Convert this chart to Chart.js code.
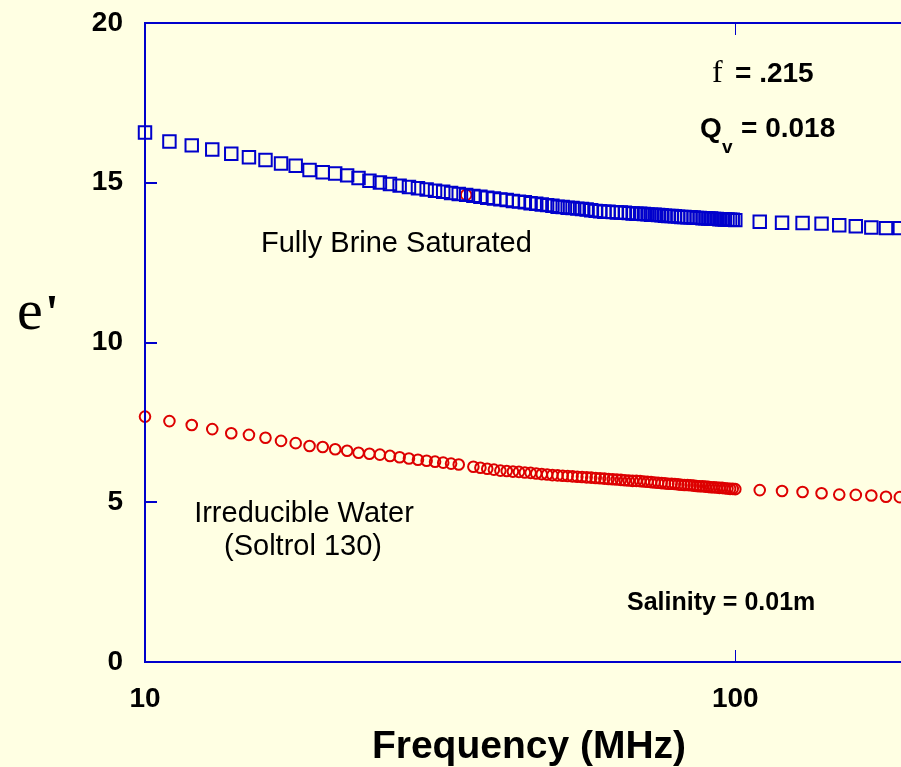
<!DOCTYPE html>
<html>
<head>
<meta charset="utf-8">
<script src="https://cdn.jsdelivr.net/npm/chart.js@4.4.1/dist/chart.umd.min.js"></script>
<style>
  html, body { margin: 0; padding: 0; background: #FFFFE3; overflow: hidden; }
  #wrap { width: 901px; height: 767px; overflow: hidden; position: relative; }
  canvas { display: block; }
</style>
</head>
<body>
<div id="wrap"><canvas id="c" width="913" height="767"></canvas></div>
<script>
// ---- data (frequency in MHz, e' values) ----
const freqs = [10,11,12,13,14,15,16,17,18,19,20,21,22,23,24,25,26,27,28,29,30,31,32,33,34,35,36,37,38,39,40,41,42,43,44,45,46,47,48,49,50,51,52,53,54,55,56,57,58,59,60,61,62,63,64,65,66,67,68,69,70,71,72,73,74,75,76,77,78,79,80,81,82,83,84,85,86,87,88,89,90,91,92,93,94,95,96,97,98,99,100,110,120,130,140,150,160,170,180,190];
const brineSaturated = [16.57,16.29,16.17,16.04,15.91,15.80,15.71,15.60,15.53,15.40,15.33,15.29,15.23,15.15,15.06,15.01,14.96,14.91,14.87,14.83,14.79,14.75,14.72,14.68,14.65,14.62,14.59,14.56,14.53,14.51,14.48,14.46,14.43,14.41,14.39,14.36,14.34,14.32,14.30,14.28,14.25,14.24,14.22,14.21,14.19,14.18,14.16,14.14,14.12,14.11,14.09,14.09,14.08,14.07,14.07,14.06,14.05,14.04,14.03,14.03,14.02,14.01,14.00,14.00,13.99,13.98,13.97,13.96,13.96,13.95,13.94,13.93,13.93,13.92,13.92,13.91,13.90,13.90,13.89,13.89,13.88,13.88,13.87,13.87,13.86,13.86,13.85,13.85,13.84,13.84,13.83,13.78,13.75,13.74,13.72,13.67,13.64,13.60,13.58,13.58];
const irreducibleWater = [7.68,7.54,7.42,7.29,7.16,7.11,7.02,6.92,6.85,6.76,6.73,6.66,6.61,6.55,6.52,6.49,6.45,6.41,6.37,6.33,6.30,6.27,6.24,6.21,6.18,14.62,6.11,6.08,6.05,6.02,5.99,5.98,5.96,5.95,5.93,5.92,5.90,5.88,5.87,5.85,5.84,5.83,5.82,5.81,5.80,5.79,5.78,5.77,5.76,5.75,5.74,5.73,5.72,5.71,5.70,5.69,5.68,5.67,5.67,5.66,5.65,5.64,5.63,5.62,5.61,5.60,5.59,5.58,5.58,5.57,5.56,5.55,5.54,5.54,5.53,5.52,5.51,5.50,5.50,5.49,5.48,5.47,5.47,5.46,5.45,5.45,5.44,5.43,5.42,5.42,5.41,5.38,5.35,5.32,5.28,5.24,5.23,5.21,5.17,5.16];
const xTickValues = [10, 100];
const yTickValues = [0, 5, 10, 15, 20];

const BG = '#FFFFE3';
const AXIS = '#0000CC';
const BLUE = '#0000CC';
const RED = '#DD0000';
const SANS = '"Liberation Sans", Arial, sans-serif';
const SERIF = '"Liberation Serif", "Times New Roman", serif';

const toPts = (ys) => freqs.map((f, i) => ({ x: f, y: ys[i] }));

const framePlugin = {
  id: 'frame',
  beforeDraw(chart) {
    const { ctx, width, height } = chart;
    ctx.save();
    ctx.fillStyle = BG;
    ctx.fillRect(0, 0, width, height);
    ctx.restore();
  },
  afterDatasetsDraw(chart) {
    const { ctx, chartArea: { left, right, top, bottom }, scales: { x, y } } = chart;
    ctx.save();
    ctx.strokeStyle = AXIS;
    ctx.lineWidth = 2;
    ctx.strokeRect(left, top, right - left, bottom - top);
    yTickValues.forEach(v => {
      if (v <= 0 || v >= 20) return;
      const py = Math.round(y.getPixelForValue(v));
      ctx.beginPath();
      ctx.moveTo(left, py); ctx.lineTo(left + 12, py);
      ctx.moveTo(right, py); ctx.lineTo(right - 12, py);
      ctx.stroke();
    });
    ctx.lineWidth = 1;
    xTickValues.forEach(v => {
      const px = Math.round(x.getPixelForValue(v)) + 0.5;
      if (px <= left + 2) return;
      ctx.beginPath();
      ctx.moveTo(px, top); ctx.lineTo(px, top + 12);
      ctx.moveTo(px, bottom); ctx.lineTo(px, bottom - 12);
      ctx.stroke();
    });
    ctx.restore();
  },
  afterDraw(chart) {
    const { ctx } = chart;
    ctx.save();
    ctx.fillStyle = '#000';
    ctx.textBaseline = 'alphabetic';
    ctx.textAlign = 'left';
    ctx.font = '58px ' + SERIF;
    ctx.fillText("e", 17, 329);
    ctx.font = 'bold 50px ' + SERIF;
    ctx.fillText("'", 45, 329);
    ctx.font = '32px ' + SERIF;
    ctx.fillText('f', 712, 82);
    ctx.font = 'bold 28px ' + SANS;
    ctx.fillText('= .215', 735, 82);
    ctx.fillText('Q', 700, 137);
    ctx.font = 'bold 19px ' + SANS;
    ctx.fillText('v', 722, 153);
    ctx.font = 'bold 28px ' + SANS;
    ctx.fillText('= 0.018', 741, 137);
    ctx.font = '29px ' + SANS;
    ctx.fillText('Fully Brine Saturated', 261, 252);
    ctx.textAlign = 'center';
    ctx.fillText('Irreducible Water', 304, 522);
    ctx.fillText('(Soltrol 130)', 303, 555);
    ctx.textAlign = 'left';
    ctx.font = 'bold 25px ' + SANS;
    ctx.fillText('Salinity = 0.01m', 627, 610);
    ctx.restore();
  }
};

new Chart(document.getElementById('c'), {
  type: 'scatter',
  data: {
    datasets: [
      {
        label: 'Fully Brine Saturated',
        data: toPts(brineSaturated),
        pointStyle: 'rect',
        pointRadius: 8.8,
        pointHoverRadius: 8.8,
        borderColor: BLUE,
        backgroundColor: 'rgba(0,0,0,0)',
        pointBorderWidth: 2,
        showLine: false,
        clip: false
      },
      {
        label: 'Irreducible Water',
        data: toPts(irreducibleWater),
        pointStyle: 'circle',
        pointRadius: 5.3,
        pointHoverRadius: 5.3,
        borderColor: RED,
        backgroundColor: 'rgba(0,0,0,0)',
        pointBorderWidth: 2,
        showLine: false,
        clip: false
      }
    ]
  },
  options: {
    responsive: false,
    animation: false,
    devicePixelRatio: 1,
    layout: { autoPadding: false, padding: { top: 23, right: 0, left: 0, bottom: 0 } },
    plugins: { legend: { display: false }, tooltip: { enabled: false } },
    scales: {
      x: {
        type: 'logarithmic',
        min: 10,
        max: 200,
        grid: { display: false },
        border: { display: false },
        afterBuildTicks: (scale) => { scale.ticks = xTickValues.map(v => ({ value: v })); },
        afterFit: (scale) => { scale.height = 105; scale.paddingLeft = 0; scale.paddingRight = 0; },
        ticks: {
          autoSkip: false,
          maxRotation: 0,
          padding: 12,
          color: '#000',
          font: { family: SANS, size: 28, weight: 'bold' },
          callback: (v) => String(v)
        },
        title: {
          display: true,
          text: 'Frequency (MHz)',
          color: '#000',
          padding: { top: 0, bottom: -4 },
          font: { family: SANS, size: 39, weight: 'bold' }
        }
      },
      y: {
        min: 0,
        max: 20,
        grid: { display: false },
        border: { display: false },
        afterBuildTicks: (scale) => { scale.ticks = yTickValues.map(v => ({ value: v })); },
        afterFit: (scale) => { scale.width = 145; scale.paddingTop = 0; scale.paddingBottom = 0; },
        ticks: {
          padding: 14,
          color: '#000',
          font: { family: SANS, size: 28, weight: 'bold' }
        }
      }
    }
  },
  plugins: [framePlugin]
});
</script>
</body>
</html>
